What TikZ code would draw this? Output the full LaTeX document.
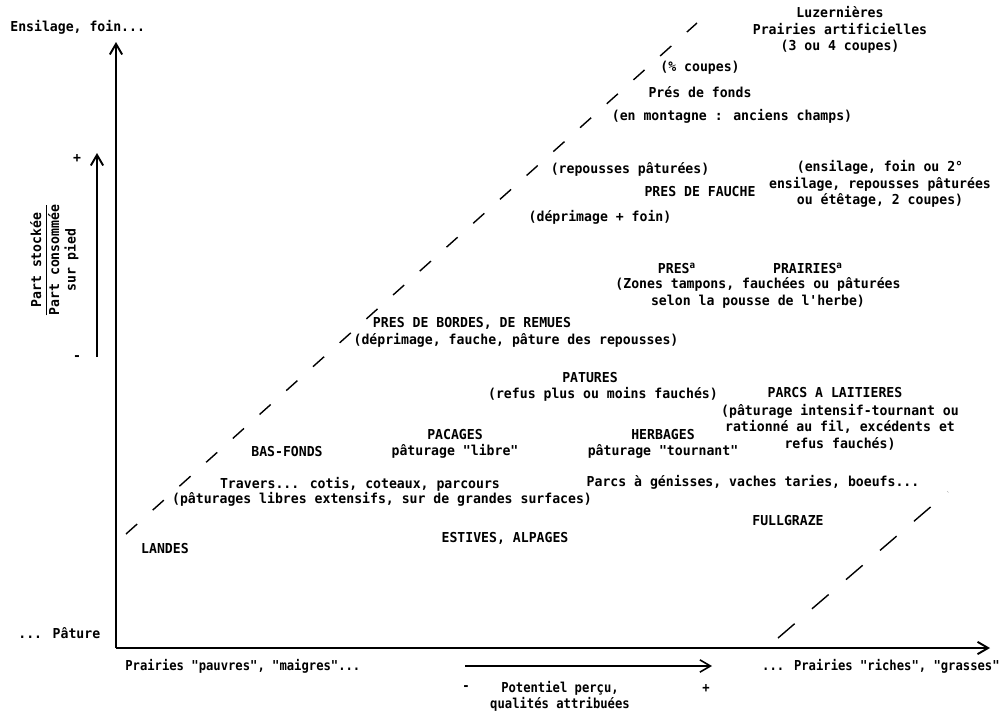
\documentclass[tikz,border=0pt]{standalone}
\usepackage{fontspec}
\setmainfont{DejaVu Sans Mono}[FakeStretch=0.96, Ligatures=TeXOff]
\newfontfamily\axisfont{DejaVu Sans Mono}[FakeStretch=0.89, Ligatures=TeXOff]
\usetikzlibrary{arrows.meta}

\begin{document}
\begin{tikzpicture}[
                x=0.02cm, y=-0.02cm,
                lbl/.style={inner sep=0pt, align=center, font=\bfseries\fontsize{7.8}{9.4}\selectfont},
                axlbl/.style={inner sep=0pt, align=center, font=\axisfont\bfseries\fontsize{7.8}{9.0}\selectfont},
                axis/.style={line width=1.1pt, -{Straight Barb[length=6pt, width=7pt]}},
                limit/.style={line width=0.8pt, dash pattern=on 8.5pt off 11.9pt},
                limitb/.style={line width=0.8pt, dash pattern=on 12.5pt off 13pt}
            ]
                \useasboundingbox (0,0) rectangle (1001,711);

                \coordinate (orig) at (116,648);
                \coordinate (ytop) at (116,42);
                \coordinate (xend) at (990,648);
                \coordinate (rlow) at (97,357);
                \coordinate (rhigh) at (97,153);
                \coordinate (plow) at (465,666);
                \coordinate (phigh) at (712,666);
                \coordinate (d1a) at (126,534);
                \coordinate (d1b) at (697,23);
                \coordinate (d2a) at (778,638);
                \coordinate (d2b) at (948,492);

                \node[lbl, anchor=west] (ensil) at (10,27) {Ensilage, foin...};
                \node[lbl, anchor=west] (pature) at (18,633) {... Pâture};
                \node[lbl] (rplus) at (77,159) {+};
                \node[lbl] (rmoins) at (77,358) {-};
                \node[lbl, rotate=90] (ratio) at (55,260) {\setlength{\arrayrulewidth}{0.8pt}\begin{tabular}{@{}c@{}}Part stockée\\\hline Part consommée\\sur pied\end{tabular}};

                \node[lbl] (luz) at (840,30) {Luzernières\\Prairies artificielles\\(3 ou 4 coupes)};
                \node[lbl] (pct) at (700,68) {(\% coupes)};
                \node[lbl] (fonds) at (700,92) {Prés de fonds};
                \node[lbl] (mont) at (732,116) {(en montagne : anciens champs)};
                \node[lbl] (repous) at (630,169) {(repousses pâturées)};
                \node[lbl] (fauche) at (700,192) {PRES DE FAUCHE};
                \node[lbl] (depfoin) at (600,217) {(déprimage + foin)};
                \node[lbl] (ensil2) at (880,184) {(ensilage, foin ou 2°\\ensilage, repousses pâturées\\ou étêtage, 2 coupes)};
                \node[lbl] (pres) at (677,268) {PRES\textsuperscript{a}};
                \node[lbl] (prair) at (808,268) {PRAIRIES\textsuperscript{a}};
                \node[lbl] (tampon) at (758,293) {(Zones tampons, fauchées ou pâturées\\selon la pousse de l'herbe)};
                \node[lbl] (bordes) at (472,323) {PRES DE BORDES, DE REMUES};
                \node[lbl] (deprim) at (516,340) {(déprimage, fauche, pâture des repousses)};
                \node[lbl] (patur) at (590,378) {PATURES};
                \node[lbl] (refus) at (603,394) {(refus plus ou moins fauchés)};
                \node[lbl] (parcs) at (835,393) {PARCS A LAITIERES};
                \node[lbl] (intens) at (840,427) {(pâturage intensif-tournant ou\\rationné au fil, excédents et\\refus fauchés)};
                \node[lbl] (basf) at (287,452) {BAS-FONDS};
                \node[lbl] (pacag) at (455,444) {PACAGES\\pâturage "libre"};
                \node[lbl] (herbag) at (663,444) {HERBAGES\\pâturage "tournant"};
                \node[lbl] (travers) at (360,484) {Travers... cotis, coteaux, parcours};
                \node[lbl] (extens) at (382,499) {(pâturages libres extensifs, sur de grandes surfaces)};
                \node[lbl] (genis) at (753,482) {Parcs à génisses, vaches taries, boeufs...};
                \node[lbl] (fullg) at (788,521) {FULLGRAZE};
                \node[lbl] (landes) at (165,548) {LANDES};
                \node[lbl] (estiv) at (505,538) {ESTIVES, ALPAGES};

                \node[axlbl, anchor=west] (pauvr) at (125,666) {Prairies "pauvres", "maigres"...};
                \node[axlbl, anchor=east] (riches) at (1000,666) {... Prairies "riches", "grasses"};
                \node[axlbl] (pmoins) at (466,688) {-};
                \node[axlbl] (pplus) at (706,688) {+};
                \node[axlbl] (potent) at (560,696) {Potentiel perçu,\\qualités attribuées};

                \draw[axis] (orig) -- (ytop);
                \draw[axis] (orig) -- (xend);
                \draw[axis] (rlow) -- (rhigh);
                \draw[axis, line width=0.9pt] (plow) -- (phigh);
                \draw[limit] (d1a) -- (d1b);
                \draw[limitb] (d2a) -- (d2b);
            \end{tikzpicture}
\end{document}
